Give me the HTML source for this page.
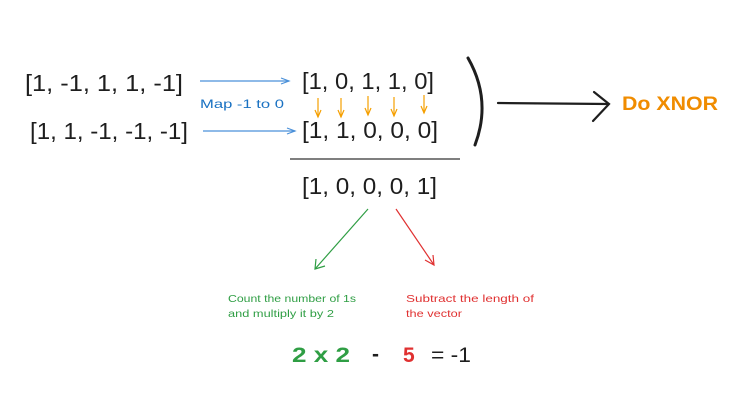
<!DOCTYPE html>
<html><head><meta charset="utf-8"><style>
html,body{margin:0;padding:0;background:#fff;}
svg{display:block;}
text{font-family:"Liberation Sans",sans-serif;}
</style></head><body>
<svg width="739" height="401" viewBox="0 0 739 401" xmlns="http://www.w3.org/2000/svg">
<rect width="739" height="401" fill="#fff"/>
<g fill="#1e1e1e" font-size="23">
<text x="25" y="91" textLength="158" lengthAdjust="spacingAndGlyphs">[1, -1,  1,  1, -1]</text>
<text x="30" y="139" textLength="158" lengthAdjust="spacingAndGlyphs">[1,  1, -1, -1, -1]</text>
<text x="302" y="89" textLength="132" lengthAdjust="spacingAndGlyphs">[1, 0, 1, 1, 0]</text>
<text x="302" y="138" textLength="136" lengthAdjust="spacingAndGlyphs">[1, 1, 0, 0, 0]</text>
<text x="302" y="194" textLength="135" lengthAdjust="spacingAndGlyphs">[1, 0, 0, 0, 1]</text>
</g>
<g stroke="#4a90d9" stroke-width="1.2" fill="none">
<line x1="200" y1="81" x2="289" y2="81"/><polyline points="281,78 289,81 281,84"/>
<line x1="203" y1="131" x2="295" y2="131"/><polyline points="287,128 295,131 287,134"/>
</g>
<text x="200" y="108" font-size="12" fill="#1971c2" textLength="84" lengthAdjust="spacingAndGlyphs">Map -1 to 0</text>
<g stroke="#f59f00" stroke-width="1.2" fill="none">
<line x1="318" y1="98" x2="318" y2="117"/><polyline points="315,110 318,117 321,110"/>
<line x1="341" y1="98" x2="341" y2="117"/><polyline points="338,110 341,117 344,110"/>
<line x1="368" y1="96" x2="368" y2="115"/><polyline points="365,108 368,115 371,108"/>
<line x1="394" y1="97" x2="394" y2="116"/><polyline points="391,109 394,116 397,109"/>
<line x1="424" y1="95" x2="424" y2="113"/><polyline points="421,106 424,113 427,106"/>
</g>
<line x1="290" y1="159" x2="460" y2="159" stroke="#333" stroke-width="1.3"/>
<path d="M468,58 Q492,100 475,145" stroke="#1e1e1e" stroke-width="3" fill="none" stroke-linecap="round"/>
<g stroke="#1e1e1e" stroke-width="2.2" fill="none" stroke-linecap="round">
<line x1="498" y1="103" x2="608" y2="104"/>
<polyline points="594,92 609,104 593,121"/>
</g>
<text x="622" y="110" font-size="19" font-weight="bold" fill="#f08c00" textLength="96" lengthAdjust="spacingAndGlyphs">Do XNOR</text>
<g stroke="#2f9e44" stroke-width="1.2" fill="none">
<line x1="368" y1="209" x2="315" y2="269"/><polyline points="316,259 315,269 325,266"/>
</g>
<g stroke="#e03131" stroke-width="1.2" fill="none">
<line x1="396" y1="209" x2="434" y2="265"/><polyline points="425,260 434,265 433,255"/>
</g>
<g font-size="10.5" fill="#2f9e44">
<text x="228" y="302" textLength="128" lengthAdjust="spacingAndGlyphs">Count the number of 1s</text>
<text x="228" y="317" textLength="106" lengthAdjust="spacingAndGlyphs">and multiply it by 2</text>
</g>
<g font-size="10.5" fill="#e03131">
<text x="406" y="302" textLength="128" lengthAdjust="spacingAndGlyphs">Subtract the length of</text>
<text x="406" y="317" textLength="56" lengthAdjust="spacingAndGlyphs">the vector</text>
</g>
<g font-size="21">
<text x="292" y="362" fill="#2f9e44" font-weight="bold" textLength="58" lengthAdjust="spacingAndGlyphs">2 x 2</text>
<text x="372" y="361" fill="#1e1e1e" font-weight="bold">-</text>
<text x="403" y="362" fill="#e03131" font-weight="bold">5</text>
<text x="431" y="362" fill="#1e1e1e" textLength="40" lengthAdjust="spacingAndGlyphs">= -1</text>
</g>
</svg>
</body></html>
